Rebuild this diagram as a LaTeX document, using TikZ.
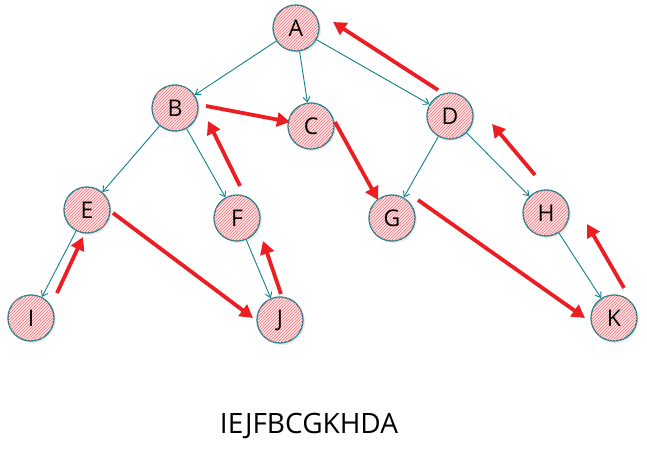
\documentclass[tikz,border=0pt]{standalone}
\usepackage{fontspec}
\setmainfont{Open Sans}
\usepackage{tikz}
\usetikzlibrary{calc,positioning,arrows.meta,patterns,shadows}
\definecolor{edgeteal}{RGB}{18,128,140}
\definecolor{walkred}{RGB}{236,30,36}
\definecolor{nodepink}{RGB}{250,228,232}
\tikzset{nd/.style={draw=edgeteal,line width=1.3pt,circle,minimum size=46pt,inner
sep=0pt,text=black,font=\fontsize{23}{26}\selectfont,fill=nodepink,
postaction={pattern=north east lines,pattern color=red!55},
drop shadow={opacity=0.15,shadow xshift=2pt,shadow yshift=-2pt}},
ed/.style={draw=edgeteal,line width=0.9pt,-{Straight Barb[length=5pt,width=7pt]}},
walk/.style={draw=walkred,line width=3.8pt,-{Triangle[length=13pt,width=14pt]}}}

\begin{document}
\begin{tikzpicture}[x=1pt,y=-1pt]
		\useasboundingbox (0,0) rectangle (647,449);
		% tree nodes
		\node[nd] (A) at (296,28) {A};
		\node[nd] (B) at (175,108) {B};
		\node[nd] (C) at (311,126) {C};
		\node[nd] (D) at (450,116) {D};
		\node[nd] (E) at (87,210) {E};
		\node[nd] (F) at (237,218) {F};
		\node[nd] (G) at (392,218) {G};
		\node[nd] (H) at (546,213) {H};
		\node[nd] (I) at (31,318) {I};
		\node[nd] (J) at (280,320) {J};
		\node[nd] (K) at (614,318) {K};
		% tree edges
		\draw[ed] (A) -- (B);
		\draw[ed] (A) -- (C);
		\draw[ed] (A) -- (D);
		\draw[ed] (B) -- (E);
		\draw[ed] (B) -- (F);
		\draw[ed] (D) -- (G);
		\draw[ed] (D) -- (H);
		\draw[ed] (E) -- (I);
		\draw[ed] (F) -- (J);
		\draw[ed] (H) -- (K);
		% walk ends
		\coordinate (i0) at (57,293);  \coordinate (e0) at (83,237);
		\coordinate (e1) at (113,213); \coordinate (j0) at (253,318);
		\coordinate (j1) at (281,294); \coordinate (f0) at (263,241);
		\coordinate (f1) at (240,186); \coordinate (b0) at (208,121);
		\coordinate (b1) at (206,106); \coordinate (c0) at (290,122);
		\coordinate (c1) at (335,122); \coordinate (g0) at (378,200);
		\coordinate (g1) at (418,200); \coordinate (k0) at (585,318);
		\coordinate (k1) at (624,288); \coordinate (h0) at (587,224);
		\coordinate (h1) at (535,175); \coordinate (d0) at (492,124);
		\coordinate (d1) at (438,90);  \coordinate (a0) at (333,22);
		% postorder walk
		\foreach \s/\t in {i0/e0,e1/j0,j1/f0,f1/b0,b1/c0,c1/g0,g1/k0,k1/h0,h1/d0,d1/a0}
			\draw[walk] (\s) -- (\t);
		\node[font=\fontsize{28}{32}\selectfont] (seq) at (309,426) {IEJFBCGKHDA};
	\end{tikzpicture}
\end{document}
